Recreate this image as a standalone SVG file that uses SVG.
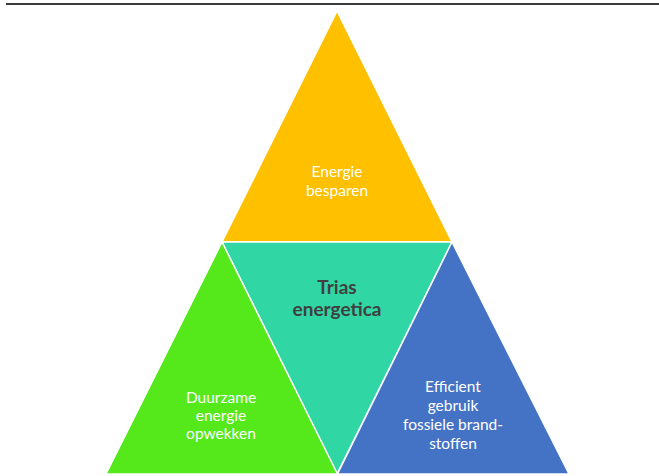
<svg xmlns="http://www.w3.org/2000/svg" width="659" height="476" viewBox="0 0 659 476">
<style>
.tri{stroke:#ffffff;stroke-width:1.5;stroke-linejoin:miter}
.lbl{font-family:Lato,"Liberation Sans",sans-serif;font-size:15.5px;fill:#ffffff;text-anchor:middle}
.title{font-family:Lato,"Liberation Sans",sans-serif;font-size:19px;font-weight:bold;fill:#404040;text-anchor:middle}
</style>
<rect width="659" height="476" fill="#ffffff"/>
<line x1="6" y1="4" x2="659" y2="4" stroke="#3a3a3a" stroke-width="2"/>
<g id="top">
<polygon class="tri" fill="#FFC000" points="337,11 222,242 452,242"/>
<text class="lbl" x="337" y="177">Energie</text>
<text class="lbl" x="337" y="196">besparen</text>
</g>
<g id="center">
<polygon class="tri" fill="#31D6A5" points="222,242 452,242 337,474"/>
<text class="title" x="337" y="294">Trias</text>
<text class="title" x="337" y="316">energetica</text>
</g>
<g id="left">
<polygon class="tri" fill="#55E81B" points="222,242 106,474 337.5,474"/>
<text class="lbl" x="221" y="403">Duurzame</text>
<text class="lbl" x="221" y="421">energie</text>
<text class="lbl" x="221" y="439">opwekken</text>
</g>
<g id="right">
<polygon class="tri" fill="#4472C4" points="452,242 337.5,474 569,474"/>
<text class="lbl" x="453" y="392">Efficient</text>
<text class="lbl" x="453" y="411">gebruik</text>
<text class="lbl" x="453" y="430">fossiele brand-</text>
<text class="lbl" x="453" y="449">stoffen</text>
</g>
<g id="connectors"></g>
</svg>
